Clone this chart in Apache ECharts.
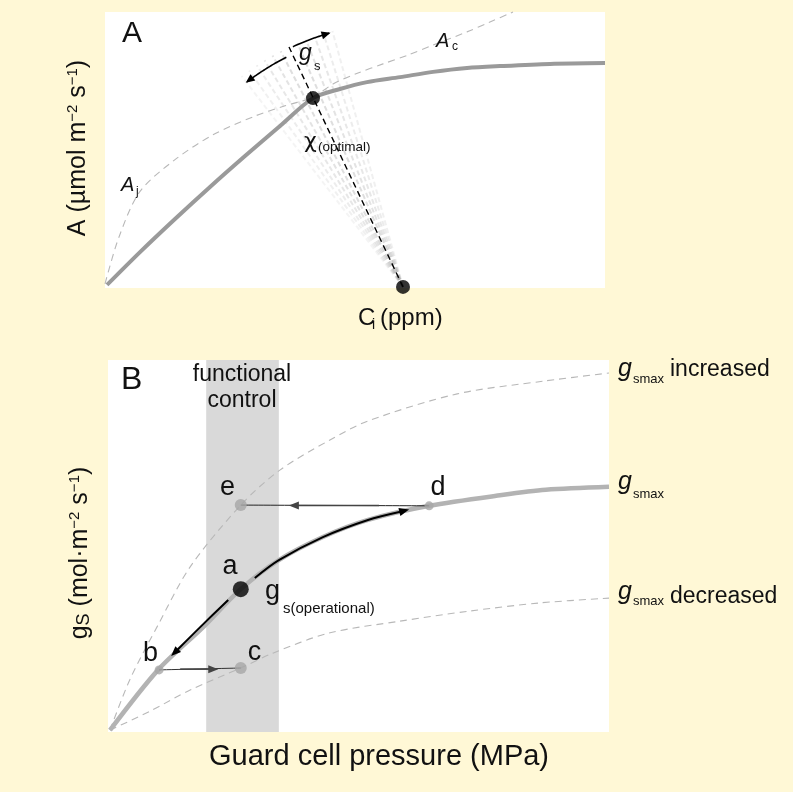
<!DOCTYPE html>
<html><head><meta charset="utf-8">
<script src="https://cdn.jsdelivr.net/npm/echarts@6/dist/echarts.min.js"></script>
<style>html,body{margin:0;padding:0;background:#FFF8D6}#c{width:793px;height:792px}</style>
</head><body><div id="c"></div><script>
// ---------- Panel A data (relative units 0-100) ----------
const aSolid   = [[0.4,1.1],[7,13],[14,25],[21,36.6],[28,47.8],[35,58.7],[41.6,68.8],[47,72.1],[52.4,74.6],[59,76.4],[65.6,78.3],[72.4,79.7],[79,80.4],[89,81.2],[100,81.5]];
const ajDashed = [[0,1.5],[2.8,18.5],[7,35],[14,46.5],[21.6,55.5],[30,62.3],[36,66],[41.6,68.8]];
const acDashed = [[41.6,68.8],[45.6,73.9],[50.6,77.9],[55.6,81.2],[60.6,84.4],[65.6,88],[72.4,92.8],[77,96.4],[81.6,100]];
const optPoint = [41.6,68.8];
const ciPoint  = [59.6,0.4];
const chiTip   = [36.8,87.3];
const fanAngles = [-12,-10,-8,-6,-4,-2,2,4,6,8,10];      // degrees from the optimal line (neg = left)
const arcSpans  = [[-1.5,-12.2],[0.8,9.5]];              // g_s double arrow, degrees

// ---------- Panel B data (relative units 0-100) ----------
const gsmax     = [[0.4,0.5],[10,16.7],[19,28.2],[26.5,38.4],[34.1,46.2],[42.9,52.4],[51.9,57],[64.1,60.8],[78.6,63.7],[87.4,65.1],[100,65.9]];
const gsmaxInc  = [[0.4,0.5],[4.4,14.2],[10,28.8],[16.4,44.4],[26.5,61],[34.3,70.4],[44.3,78.5],[51.9,83.6],[69.7,90.9],[87.4,94.4],[100,96.5]];
const gsmaxDec  = [[0.4,0.5],[8.4,5.6],[16.4,11.3],[26.5,17.2],[32.9,21.2],[44.1,26.6],[58.3,29.8],[72.1,32.5],[86.2,34.7],[100,36]];
const band      = [19.6,34.1];
const ptA = [26.5,38.4], ptB = [10.2,16.7], ptC = [26.5,17.2], ptD = [64.1,60.8], ptE = [26.5,61];
const arrowAD = [[29.3,41.4],[34.1,46.2],[42.9,52.4],[51.9,57],[60.1,59.8]];
const arrowAB = [[24,35.5],[18.4,28.2],[12.6,20.4]];
const arrowDE = [[54.1,60.9],[36.1,60.9]];
const arrowBC = [[14.4,16.9],[22,16.9]];
const lineDE  = [ptD, ptE];
const lineBC  = [ptB, ptC];

const FONT = '"Liberation Sans", Arial, Helvetica, sans-serif';
const chart = echarts.init(document.getElementById('c'), null, {renderer:'canvas'});

function headPts(tip, from, len, hw){
  const dx=tip[0]-from[0], dy=tip[1]-from[1], d=Math.hypot(dx,dy)||1;
  const ux=dx/d, uy=dy/d, bx=tip[0]-ux*len, by=tip[1]-uy*len;
  return {pts:[tip,[bx-uy*hw,by+ux*hw],[bx+uy*hw,by-ux*hw]], base:[bx+ux*1,by+uy*1]};
}
function fanRender(params, api){
  const o=api.coord(ciPoint), t=api.coord(chiTip);
  const base=Math.atan2(t[1]-o[1],t[0]-o[0]), L=Math.hypot(t[0]-o[0],t[1]-o[1]);
  const deg=api.value(0), ang=base+deg*Math.PI/180;
  const a=Math.max(0.10,0.36-0.022*Math.abs(deg));
  return {type:'line', shape:{x1:o[0],y1:o[1],x2:o[0]+L*Math.cos(ang),y2:o[1]+L*Math.sin(ang)},
    style:{stroke:'rgba(150,150,150,'+a+')', lineWidth:2, lineDash:[5,3]}};
}
const arcRadius = [0.97, 0.995];
function arcRender(params, api){
  const o=api.coord(ciPoint), t=api.coord(chiTip);
  const base=Math.atan2(t[1]-o[1],t[0]-o[0]), L=Math.hypot(t[0]-o[0],t[1]-o[1]);
  const children=[];
  arcSpans.forEach(function(sp,k){
    const R=L*arcRadius[k], pts=[], n=30;
    for(let i=0;i<=n;i++){const ang=base+(sp[0]+(sp[1]-sp[0])*i/n)*Math.PI/180; pts.push([o[0]+R*Math.cos(ang),o[1]+R*Math.sin(ang)]);}
    const h=headPts(pts[n],pts[n-2],9,4);
    pts[n]=h.base;
    children.push({type:'polyline',shape:{points:pts},style:{stroke:'#000',lineWidth:1.6,fill:null}});
    children.push({type:'polygon',shape:{points:h.pts},style:{fill:'#000'}});
  });
  return {type:'group',children:children};
}
const arrowPaths = [arrowAD, arrowAB, arrowDE, arrowBC];
const arrowColors = ['#000','#000','#444','#444'];
const arrowWidths = [2,2,1.6,1.6];
function arrowRender(params, api){
  const idx=params.dataIndex;
  const pts=arrowPaths[idx].map(function(p){return api.coord(p);});
  const n=pts.length-1;
  const h=headPts(pts[n],pts[n-1],10,4);
  const shaft=pts.slice(); shaft[n]=h.base;
  return {type:'group',children:[
    {type:'polyline',shape:{points:shaft,smooth:n>1?0.3:0},style:{stroke:arrowColors[idx],lineWidth:arrowWidths[idx],fill:null}},
    {type:'polygon',shape:{points:h.pts},style:{fill:arrowColors[idx]}}
  ]};
}
function bandRender(params, api){
  const p1=api.coord([band[0],100]), p2=api.coord([band[1],0]);
  return {type:'rect',shape:{x:p1[0],y:p1[1],width:p2[0]-p1[0],height:p2[1]-p1[1]},style:{fill:'#d9d9d9'}};
}

function T(x,y,text,size,o){
  o=o||{};
  return {type:'text',x:x,y:y,rotation:o.rot||0,z:100,silent:true,
    style:{text:text,fontSize:size,fontFamily:o.font||FONT,fontStyle:o.italic?'italic':'normal',fill:o.color||'#111',
      align:o.align||'left',verticalAlign:'middle',rich:o.rich,lineHeight:o.lh}};
}
const supRich = {sup:{fontSize:15,lineHeight:15,verticalAlign:'top',fontFamily:FONT,fill:'#111'},
                 sub:{fontSize:18,lineHeight:14,verticalAlign:'bottom',fontFamily:FONT,fill:'#111'}};

const graphics = [
  T(122,34,'A',30),
  T(436,41.5,'A',20,{italic:true}), T(452,47,'c',12),
  T(121,185.5,'A',20,{italic:true}), T(136,192,'j',12),
  T(299,54,'g',23,{italic:true}), T(314,66,'s',13),
  T(304,142,'χ',22,{font:'"DejaVu Sans", sans-serif'}), T(318,147,'(optimal)',13.5),
  T(358,318,'C',24), T(372,325,'i',14), T(380,318,'(ppm)',24),
  T(78,148,'A (µmol m{sup|−2} s{sup|−1})',25,{align:'center',rot:Math.PI/2,rich:supRich,lh:26}),
  T(121,380,'B',32),
  T(242,375,'functional',23,{align:'center'}), T(242,401,'control',23,{align:'center'}),
  T(227.5,488,'e',27,{align:'center'}),
  T(438,488,'d',27,{align:'center'}),
  T(230,567,'a',27,{align:'center'}),
  T(150.5,653.5,'b',27,{align:'center'}),
  T(254.5,652.5,'c',27,{align:'center'}),
  T(265,592,'g',27), T(283,609,'s(operational)',15),
  T(618,369,'g',25,{italic:true}), T(633,379,'smax',13), T(670,370,'increased',23),
  T(618,482,'g',25,{italic:true}), T(633,494,'smax',13),
  T(618,592,'g',25,{italic:true}), T(633,601,'smax',13), T(670,596.5,'decreased',23),
  T(379,757,'Guard cell pressure (MPa)',29,{align:'center'}),
  T(80,553,'g{sub|S} (mol·m{sup|−2} s{sup|−1})',25,{align:'center',rot:Math.PI/2,rich:supRich,lh:26})
];

const dashedStyle = {color:'#b8b8b8',width:1.1,type:[7,5]};
function lineS(xi,data,style,z){
  return {type:'line',xAxisIndex:xi,yAxisIndex:xi,data:data,showSymbol:false,symbol:'none',smooth:0.3,
    lineStyle:style,z:z,silent:true,animation:false,clip:false};
}

chart.setOption({
  backgroundColor:'#FFF8D6',
  animation:false,
  grid:[
    {left:105,top:12,width:500,height:276,show:true,backgroundColor:'#ffffff',borderWidth:0,containLabel:false,outerBoundsMode:'none'},
    {left:108,top:360,width:501,height:372,show:true,backgroundColor:'#ffffff',borderWidth:0,containLabel:false,outerBoundsMode:'none'}
  ],
  xAxis:[
    {gridIndex:0,type:'value',min:0,max:100,show:false},
    {gridIndex:1,type:'value',min:0,max:100,show:false}
  ],
  yAxis:[
    {gridIndex:0,type:'value',min:0,max:100,show:false},
    {gridIndex:1,type:'value',min:0,max:100,show:false}
  ],
  graphic:{elements:graphics},
  series:[
    // Panel A
    {type:'custom',xAxisIndex:0,yAxisIndex:0,z:1,silent:true,data:fanAngles.map(function(a){return [a,0];}),renderItem:fanRender},
    lineS(0,ajDashed,dashedStyle,2),
    lineS(0,acDashed,dashedStyle,2),
    lineS(0,aSolid,{color:'#9a9a9a',width:4},3),
    {type:'line',xAxisIndex:0,yAxisIndex:0,data:[ciPoint,chiTip],showSymbol:false,symbol:'none',z:4,silent:true,
      lineStyle:{color:'#000',width:1.4,type:[6,4]}},
    {type:'custom',xAxisIndex:0,yAxisIndex:0,z:5,silent:true,data:[[0,0]],renderItem:arcRender},
    {type:'scatter',xAxisIndex:0,yAxisIndex:0,z:6,silent:true,clip:false,data:[optPoint,ciPoint],symbolSize:14,itemStyle:{color:'#000'}},
    // Panel B
    {type:'custom',xAxisIndex:1,yAxisIndex:1,z:1,silent:true,data:[[band[0],0]],renderItem:bandRender},
    lineS(1,gsmaxInc,dashedStyle,2),
    lineS(1,gsmaxDec,dashedStyle,2),
    lineS(1,gsmax,{color:'#b3b3b3',width:4.5},3),
    lineS(1,lineDE,{color:'#222',width:1},4),
    lineS(1,lineBC,{color:'#333',width:1},4),
    {type:'custom',xAxisIndex:1,yAxisIndex:1,z:5,silent:true,data:arrowPaths.map(function(p,i){return [i,0];}),renderItem:arrowRender},
    {type:'scatter',xAxisIndex:1,yAxisIndex:1,z:6,silent:true,clip:false,symbolSize:function(v,p){return [9,12,9,12][p.dataIndex];},
      data:[ptB,ptC,ptD,ptE],itemStyle:{color:'#a6a6a6'}},
    {type:'scatter',xAxisIndex:1,yAxisIndex:1,z:7,silent:true,clip:false,data:[ptA],symbolSize:16,itemStyle:{color:'#000'}}
  ]
});
</script></body></html>
